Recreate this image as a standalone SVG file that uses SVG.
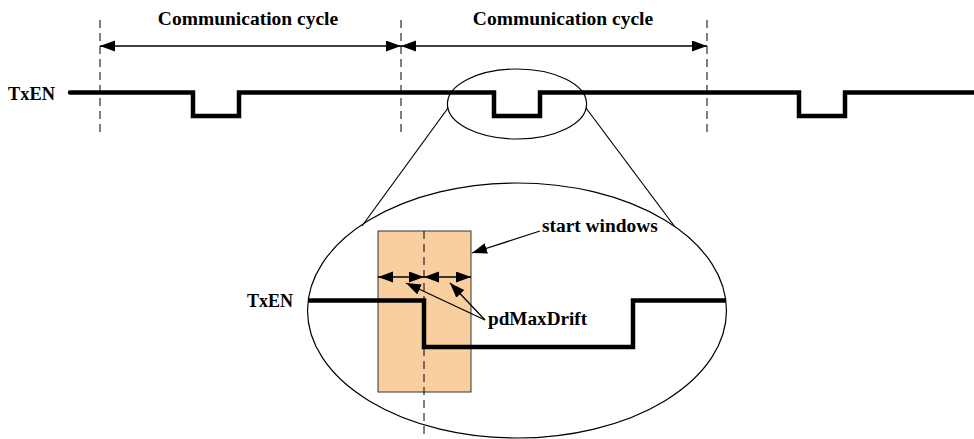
<svg xmlns="http://www.w3.org/2000/svg" width="974" height="439" viewBox="0 0 974 439">
  <style>
    .lbl { font-family: "Liberation Serif", "Times New Roman", serif; font-weight: bold; fill: #000; }
    .sig { fill: none; stroke: #000; stroke-width: 4.5; stroke-linejoin: miter; }
    .dash { stroke: #000; stroke-width: 1; stroke-dasharray: 8 5; fill: none; }
    .thin { stroke: #000; stroke-width: 1.2; fill: none; }
    .arr { stroke: #000; stroke-width: 1.3; fill: none; marker-end: url(#ah); }
    .dbl { stroke: #000; stroke-width: 1.3; fill: none; marker-start: url(#ah); marker-end: url(#ah); }
  </style>
  <defs>
    <marker id="ah" markerUnits="userSpaceOnUse" markerWidth="16" markerHeight="12" refX="15" refY="5.5" orient="auto-start-reverse">
      <path d="M0,0 L15,5.5 L0,11 z" fill="#000"/>
    </marker>
  </defs>

  <rect width="974" height="439" fill="#fff"/>

  <!-- cycle boundaries -->
  <g id="cycle-bounds">
    <line class="dash" x1="100" y1="20" x2="100" y2="137"/>
    <line class="dash" x1="401" y1="20" x2="401" y2="137"/>
    <line class="dash" x1="707" y1="20" x2="707" y2="137"/>
  </g>

  <g id="cycle-labels">
    <text class="lbl" x="248" y="25" font-size="19.5" text-anchor="middle">Communication cycle</text>
    <text class="lbl" x="563" y="25" font-size="19.5" text-anchor="middle">Communication cycle</text>
  </g>

  <!-- TxEN waveform, top row -->
  <g id="txen-top">
    <text class="lbl" x="8" y="100" font-size="18.4">TxEN</text>
    <path class="sig" stroke-linecap="round" d="M70,92.5 H193 V116 H239 V92.5 H494 V116 H540 V92.5 H799 V116 H845 V92.5 H980"/>
  </g>

  <!-- zoom lens -->
  <g id="lens">
    <ellipse class="thin" cx="517" cy="104" rx="69.6" ry="35"/>
    <line class="thin" x1="448" y1="108" x2="362" y2="226"/>
    <line class="thin" x1="586" y1="108" x2="675" y2="227"/>
    <ellipse class="thin" cx="517" cy="310.5" rx="209.5" ry="127.5"/>
  </g>

  <!-- start window -->
  <g id="start-window">
    <rect x="378" y="231" width="93" height="161" fill="#F9CFA0" stroke="#333" stroke-width="1"/>
    <line class="dash" x1="424" y1="231" x2="424" y2="434"/>
  </g>

  <!-- TxEN waveform, magnified -->
  <g id="txen-zoom">
    <text class="lbl" x="247" y="307" font-size="18">TxEN</text>
    <path class="sig" d="M308,300.5 H424 V347 H633 V300.5 H726"/>
  </g>

  <g id="label-start-windows">
    <text class="lbl" x="542" y="232" font-size="19.4">start windows</text>
  </g>
  <g id="label-pdmaxdrift">
    <text class="lbl" x="488" y="325" font-size="19.2">pdMaxDrift</text>
  </g>

  <!-- connectors -->
  <g id="connectors">
    <line class="dbl" x1="100" y1="46" x2="401" y2="46"/>
    <line class="dbl" x1="401" y1="46" x2="707" y2="46"/>
    <line class="dbl" x1="378" y1="277" x2="424" y2="277"/>
    <line class="dbl" x1="424" y1="277" x2="471" y2="277"/>
    <line class="arr" x1="540" y1="231" x2="472" y2="253"/>
    <line class="arr" x1="485" y1="320" x2="406" y2="283"/>
    <line class="arr" x1="485" y1="320" x2="450" y2="283"/>
  </g>
</svg>
